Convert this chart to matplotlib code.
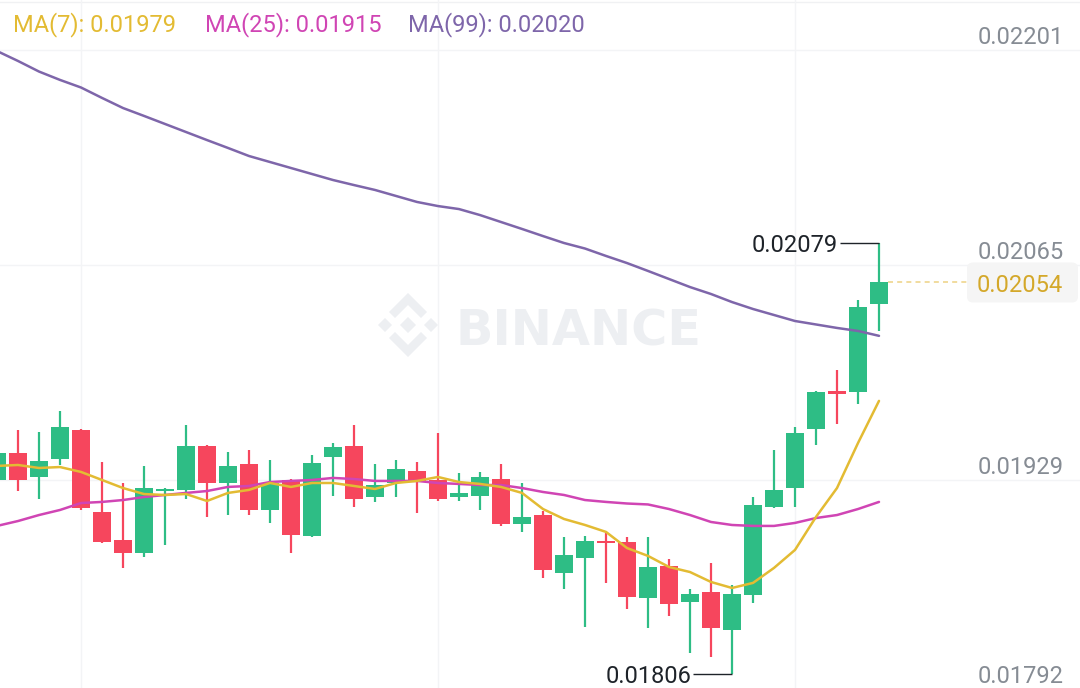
import matplotlib
matplotlib.use("Agg")
import matplotlib.pyplot as plt
from matplotlib.patches import FancyBboxPatch, Polygon
import numpy as np

# ---------------- data ----------------
opens = [0.019289, 0.019460, 0.019308, 0.019422, 0.019606, 0.019086, 0.018909, 0.018827, 0.019219,
         0.019226, 0.019504, 0.019270, 0.019390, 0.019099, 0.019289, 0.018934, 0.019435, 0.019504,
         0.019181, 0.019270, 0.019346, 0.019289, 0.019181, 0.019188, 0.019295, 0.019010, 0.019067,
         0.018700, 0.018795, 0.018903, 0.018896, 0.018542, 0.018744, 0.018516, 0.018580, 0.018339,
         0.018561, 0.019118, 0.019238, 0.019612, 0.019853, 0.019846, 0.020404]
highs = [0.019479, 0.019606, 0.019593, 0.019726, 0.019612, 0.019403, 0.019270, 0.019378, 0.019238,
         0.019637, 0.019511, 0.019466, 0.019479, 0.019416, 0.019295, 0.019447, 0.019523, 0.019637,
         0.019390, 0.019416, 0.019403, 0.019587, 0.019333, 0.019340, 0.019390, 0.019270, 0.019093,
         0.018928, 0.018934, 0.018953, 0.018928, 0.018928, 0.018789, 0.018599, 0.018763, 0.018624,
         0.019181, 0.019479, 0.019625, 0.019853, 0.019986, 0.020429, 0.020790]
lows = [0.019276, 0.019219, 0.019169, 0.019384, 0.019099, 0.018890, 0.018732, 0.018801, 0.018877,
        0.019169, 0.019055, 0.019067, 0.019067, 0.019017, 0.018827, 0.018928, 0.019188, 0.019118,
        0.019150, 0.019181, 0.019080, 0.019156, 0.019156, 0.019099, 0.018998, 0.018960, 0.018668,
        0.018599, 0.018358, 0.018637, 0.018472, 0.018351, 0.018428, 0.018193, 0.018168, 0.018060,
        0.018510, 0.019112, 0.019118, 0.019511, 0.019644, 0.019770, 0.020233]
closes = [0.019460, 0.019289, 0.019409, 0.019625, 0.019112, 0.018896, 0.018827, 0.019238, 0.019232,
          0.019504, 0.019270, 0.019378, 0.019099, 0.019270, 0.018941, 0.019397, 0.019498, 0.019169,
          0.019257, 0.019359, 0.019276, 0.019169, 0.019207, 0.019308, 0.019010, 0.019055, 0.018719,
          0.018814, 0.018903, 0.018890, 0.018548, 0.018738, 0.018504, 0.018567, 0.018351, 0.018567,
          0.019131, 0.019226, 0.019587, 0.019846, 0.019834, 0.020385, 0.020540]
ma7 = [0.019378, 0.019384, 0.019365, 0.019371, 0.019340, 0.019289, 0.019238, 0.019200, 0.019194,
       0.019200, 0.019156, 0.019207, 0.019226, 0.019270, 0.019245, 0.019270, 0.019270, 0.019251,
       0.019232, 0.019270, 0.019283, 0.019308, 0.019276, 0.019264, 0.019245, 0.019207, 0.019105,
       0.019042, 0.019004, 0.018960, 0.018858, 0.018808, 0.018738, 0.018706, 0.018643, 0.018605,
       0.018637, 0.018732, 0.018846, 0.019055, 0.019238, 0.019523, 0.019790]
ma25 = [0.018998, 0.019029, 0.019067, 0.019099, 0.019143, 0.019150, 0.019162, 0.019181, 0.019194,
        0.019207, 0.019219, 0.019245, 0.019251, 0.019276, 0.019283, 0.019289, 0.019302, 0.019295,
        0.019283, 0.019283, 0.019283, 0.019270, 0.019264, 0.019257, 0.019257, 0.019238, 0.019213,
        0.019194, 0.019162, 0.019150, 0.019140, 0.019134, 0.019105, 0.019067, 0.019023, 0.019004,
        0.018998, 0.018998, 0.019017, 0.019048, 0.019067, 0.019105, 0.019150]
ma99 = [0.022006, 0.021943, 0.021876, 0.021823, 0.021775, 0.021709, 0.021645, 0.021595, 0.021544,
        0.021493, 0.021442, 0.021392, 0.021341, 0.021303, 0.021265, 0.021227, 0.021189, 0.021157,
        0.021126, 0.021088, 0.021050, 0.021024, 0.021005, 0.020967, 0.020923, 0.020879, 0.020834,
        0.020790, 0.020755, 0.020708, 0.020663, 0.020613, 0.020562, 0.020511, 0.020467, 0.020416,
        0.020372, 0.020334, 0.020296, 0.020274, 0.020252, 0.020233, 0.020202]
y_ticks = [0.02201, 0.02065, 0.01929, 0.01792]
y_tick_labels = ["0.02201", "0.02065", "0.01929", "0.01792"]
v_grid_idx = [4, 21, 38]

# ---------------- style ----------------
W, H = 1080, 688
GREEN, RED = "#2EBD85", "#F6465D"
C7, C25, C99 = "#E3BB33", "#D045B4", "#7E66AA"
AXIS_TXT = "#868C94"
DARK = "#1E2329"
WM = "#EDEFF2"
GRID = "#F3F4F6"
FONT = ["Roboto", "DejaVu Sans"]
plt.rcParams["font.family"] = FONT

fig = plt.figure(figsize=(W / 100, H / 100), dpi=100, facecolor="white")

# background overlay (pixel coords) for watermark
bg = fig.add_axes([0, 0, 1, 1], label="bg", zorder=0)
bg.set_xlim(0, W); bg.set_ylim(H, 0); bg.axis("off")

ax = fig.add_axes([0, 0, 1, 1], label="main", zorder=1)
CANDLE_PX, FIRST_PX = 21.0, -3.0
ax.set_xlim((0 - FIRST_PX) / CANDLE_PX, (W - FIRST_PX) / CANDLE_PX)
ax.set_ylim(0.0179714, 0.0223292)
ax.axis("off")

ov = fig.add_axes([0, 0, 1, 1], label="ov", zorder=2)
ov.set_xlim(0, W); ov.set_ylim(H, 0); ov.axis("off")

def px_x(px):
    return ax.transData.inverted().transform((px, 0))[0]

def price_py(p):
    return H - ax.transData.transform((0, p))[1]

# top separator
bg.plot([0, W], [2, 2], color="#F0F1F3", lw=1)

# grid
for v in y_ticks:
    ax.axhline(v, color=GRID, lw=1, zorder=0)
for g in v_grid_idx:
    ax.axvline(g, color=GRID, lw=1, zorder=0)

# watermark
cx, cy = 408, 325
def diamond(x, y, r):
    return [(x, y - r), (x + r, y), (x, y + r), (x - r, y)]
for pts in [diamond(cx, cy, 8), diamond(cx - 23, cy, 7), diamond(cx + 23, cy, 7),
            [(cx, cy - 32), (cx + 19, cy - 13), (cx + 13, cy - 7), (cx, cy - 20), (cx - 13, cy - 7), (cx - 19, cy - 13)],
            [(cx, cy + 32), (cx + 19, cy + 13), (cx + 13, cy + 7), (cx, cy + 20), (cx - 13, cy + 7), (cx - 19, cy + 13)]]:
    bg.add_patch(Polygon(pts, closed=True, fc=WM, ec="none"))
bg.text(456, 345, "BINANCE", family="DejaVu Sans", weight="bold", fontsize=35.5,
        color=WM, ha="left", va="baseline")

# candles
o = np.array(opens); h = np.array(highs); l = np.array(lows); c = np.array(closes)
x = np.arange(len(o))
cols = np.where(c >= o, GREEN, RED)
bottoms = np.minimum(o, c)
heights = np.maximum(np.abs(c - o), 0.0000125)
ax.vlines(x, l, h, colors=cols, lw=1.6, zorder=3)
ax.bar(x, heights, bottom=bottoms, width=0.82, color=cols, linewidth=0, zorder=3)

# moving averages
ax.plot(x, ma99, color=C99, lw=1.8, zorder=4, solid_capstyle="round", solid_joinstyle="round")
ax.plot(x, ma25, color=C25, lw=1.8, zorder=4, solid_capstyle="round", solid_joinstyle="round")
ax.plot(x, ma7, color=C7, lw=1.8, zorder=4, solid_capstyle="round", solid_joinstyle="round")

# legend
for txt, col, xp in [(f"MA(7): {ma7[-1]:.5f}", C7, 13),
                     (f"MA(25): {ma25[-1]:.5f}", C25, 205),
                     (f"MA(99): {ma99[-1]:.5f}", C99, 408)]:
    fig.text(xp / W, 1 - 31 / H, txt, color=col, fontsize=17, ha="left", va="baseline")

# y labels (baseline a few px above the grid line, kept inside the picture)
for v, lab in zip(y_ticks, y_tick_labels):
    base = min(price_py(v) - 6, H - 5)
    ov.text(1064, base, lab, ha="right", va="baseline", color=AXIS_TXT, fontsize=17)

# high / low markers
hi = int(np.argmax(h)); lo = int(np.argmin(l))
for idx, val in [(hi, h[hi]), (lo, l[lo])]:
    ax.hlines(val, idx - 39 / CANDLE_PX, idx, color=DARK, lw=1, zorder=5)
    ax.annotate(f"{val:.5f}", xy=(idx - 41 / CANDLE_PX, val), xycoords="data",
                xytext=(0, -8.5), textcoords="offset pixels", ha="right", va="baseline",
                color=DARK, fontsize=17, zorder=5)

# current price tag
cur = c[-1]
ax.plot([x[-1] + 0.45, px_x(967)], [cur, cur], color="#EFD58E", lw=1.2,
        ls=(0, (3, 2.5)), zorder=2)
py = price_py(cur)
ov.add_patch(FancyBboxPatch((967, py - 20), 111, 40, boxstyle="round,pad=0,rounding_size=6",
                            fc="#F5F5F5", ec="none"))
ov.text(1063, py + 9.5, f"{cur:.5f}", ha="right", va="baseline", color="#D4A82A", fontsize=17)

fig.savefig("out.png", dpi=100, facecolor="white")
